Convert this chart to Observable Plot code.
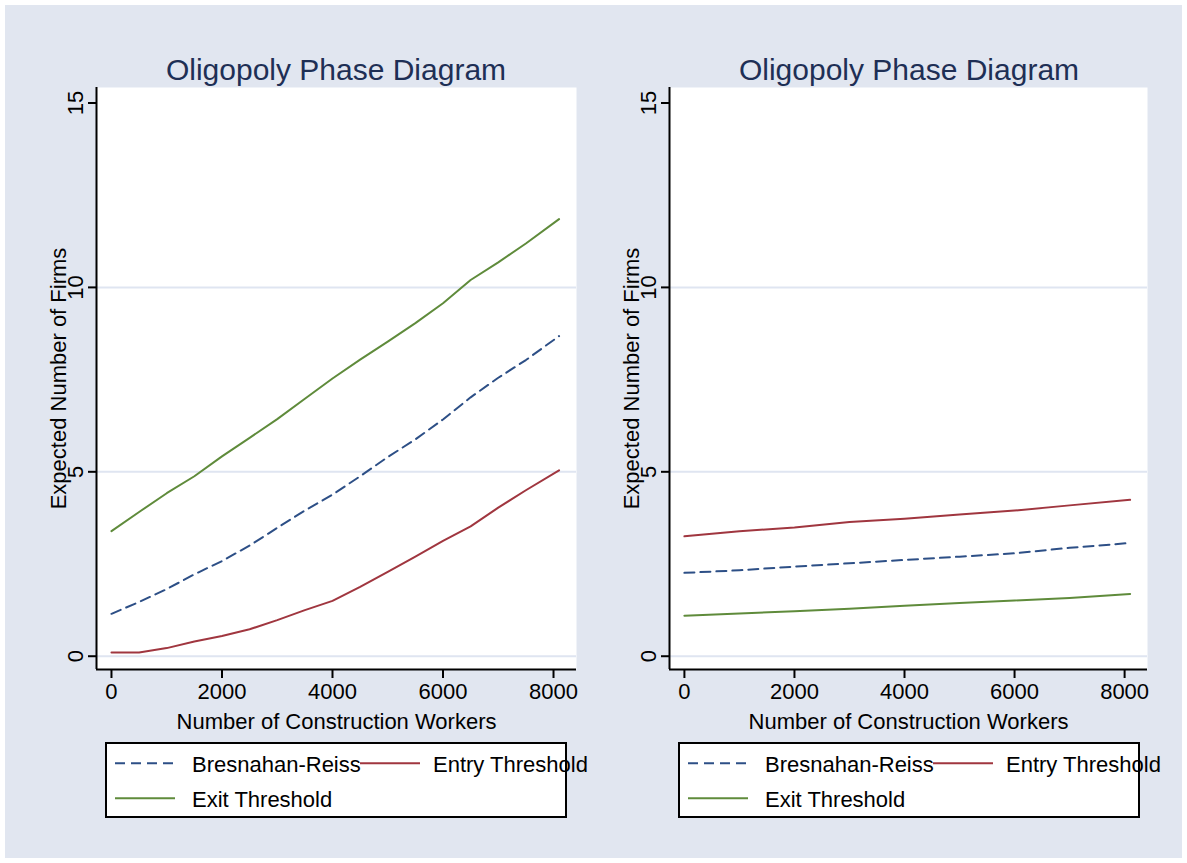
<!DOCTYPE html>
<html>
<head>
<meta charset="utf-8">
<script src="https://cdn.jsdelivr.net/npm/d3@7"></script>
<script src="https://cdn.jsdelivr.net/npm/@observablehq/plot@0.6"></script>
<style>
  html, body { margin: 0; padding: 0; background: #ffffff; }
  #root { position: relative; width: 1187px; height: 863px; overflow: hidden; font-family: "Liberation Sans", Arial, sans-serif; }
  #bg { position: absolute; left: 5px; top: 5px; width: 1177px; height: 853px; background: #e1e6f0; }
  .title { position: absolute; width: 480px; text-align: center; font-size: 30px; line-height: 30px; color: #1e2f55; white-space: nowrap; }
  .chart { position: absolute; }
  .legend { position: absolute; overflow: visible; }
</style>
</head>
<body>
<div id="root"><div id="bg"></div></div>
<script>
// ---------------- data ----------------
const seriesNames = ["Bresnahan-Reiss", "Entry Threshold", "Exit Threshold"];
const panelTitle = "Oligopoly Phase Diagram";
const xLabel = "Number of Construction Workers";
const yLabel = "Expected Number of Firms";
const xTicks = [0, 2000, 4000, 6000, 8000];
const yTicks = [0, 5, 10, 15];
const gridTicks = [0, 5, 10];

// left panel
const xLeft      = [0, 500, 1000, 1500, 2000, 2500, 3000, 3500, 4000, 4500, 5000, 5500, 6000, 6500, 7000, 7500, 8100];
const leftBR     = [1.15, 1.47, 1.82, 2.22, 2.58, 3.00, 3.48, 3.95, 4.38, 4.88, 5.40, 5.88, 6.42, 7.02, 7.55, 8.03, 8.68];
const leftEntry  = [0.10, 0.10, 0.22, 0.40, 0.55, 0.73, 0.98, 1.25, 1.50, 1.88, 2.29, 2.70, 3.13, 3.52, 4.03, 4.50, 5.04];
const leftExit   = [3.39, 3.91, 4.42, 4.88, 5.42, 5.92, 6.43, 6.98, 7.53, 8.04, 8.53, 9.03, 9.57, 10.20, 10.68, 11.19, 11.85];

// right panel
const xRight     = [0, 1000, 2000, 3000, 4000, 5000, 6000, 7000, 8100];
const rightBR    = [2.26, 2.33, 2.43, 2.52, 2.61, 2.70, 2.79, 2.94, 3.07];
const rightEntry = [3.25, 3.39, 3.49, 3.64, 3.73, 3.84, 3.95, 4.09, 4.24];
const rightExit  = [1.10, 1.16, 1.22, 1.29, 1.37, 1.44, 1.51, 1.58, 1.69];

// ---------------- style ----------------
const colors = {"Bresnahan-Reiss": "#2d4f86", "Entry Threshold": "#a0363f", "Exit Threshold": "#5f8b3b"};
const dashes = {"Bresnahan-Reiss": "10,6", "Entry Threshold": null, "Exit Threshold": null};
const xDomain = [-271, 8416];
const yDomain = [-0.36, 15.42];
const FONT = "'Liberation Sans', Arial, sans-serif";

function rowsFor(xs, br, entry, exit) {
  const rows = [];
  const vals = [br, entry, exit];
  seriesNames.forEach((s, k) => xs.forEach((x, i) => rows.push({series: s, x, y: vals[k][i]})));
  return rows;
}

function panel(rows, marginRight) {
  const lineMarks = seriesNames.map(s => Plot.line(rows.filter(r => r.series === s), {
    x: "x", y: "y", stroke: colors[s], strokeWidth: 2, strokeDasharray: dashes[s] ?? undefined
  }));
  return Plot.plot({
    width: 590, height: 660,
    marginLeft: 96, marginRight, marginTop: 7, marginBottom: 71,
    style: {background: "transparent", fontFamily: FONT, color: "#000"},
    x: {domain: xDomain, axis: null},
    y: {domain: yDomain, axis: null},
    marks: [
      Plot.frame({fill: "white", stroke: "none"}),
      Plot.gridY(gridTicks, {stroke: "#dfe5f1", strokeOpacity: 1, strokeWidth: 2}),
      Plot.axisX({ticks: xTicks, tickSize: 9, tickPadding: 5, fontSize: 22, tickFormat: d3.format("d"), label: null, strokeWidth: 2}),
      Plot.axisY({ticks: yTicks, tickSize: 8, tickFormat: () => "", label: null, strokeWidth: 2}),
      Plot.text(yTicks, {y: d => d, text: d => String(d), frameAnchor: "left", dx: -14, rotate: -90, textAnchor: "middle", lineAnchor: "bottom", fontSize: 22, fill: "#000"}),
      Plot.text([yLabel], {text: d => d, frameAnchor: "left", dx: -46, rotate: -90, textAnchor: "middle", lineAnchor: "top", fontSize: 22, fill: "#000"}),
      Plot.text([xLabel], {text: d => d, frameAnchor: "bottom", dy: 59, textAnchor: "middle", lineAnchor: "bottom", fontSize: 22, fill: "#000"}),
      ...lineMarks,
      Plot.ruleX([xDomain[0]], {stroke: "#000", strokeWidth: 2}),
      Plot.ruleY([yDomain[0]], {stroke: "#000", strokeWidth: 2})
    ]
  });
}

function legendSvg() {
  const ns = "http://www.w3.org/2000/svg";
  const svg = document.createElementNS(ns, "svg");
  svg.setAttribute("width", 500); svg.setAttribute("height", 78);
  svg.style.overflow = "visible";
  const add = (tag, attrs, text) => {
    const el = document.createElementNS(ns, tag);
    for (const k in attrs) el.setAttribute(k, attrs[k]);
    if (text) el.textContent = text;
    svg.appendChild(el); return el;
  };
  add("rect", {x: 1, y: 1, width: 460, height: 74, fill: "white", stroke: "#000", "stroke-width": 2});
  const items = [
    {s: seriesNames[0], lx: 10, tx: 87, ly: 21.3, ty: 29.7},
    {s: seriesNames[1], lx: 255, tx: 328, ly: 21.3, ty: 29.7},
    {s: seriesNames[2], lx: 10, tx: 87, ly: 56.3, ty: 64.7}
  ];
  items.forEach(it => {
    const a = {x1: it.lx, x2: it.lx + 60, y1: it.ly, y2: it.ly, stroke: colors[it.s], "stroke-width": 2};
    if (dashes[it.s]) a["stroke-dasharray"] = dashes[it.s];
    add("line", a);
    add("text", {x: it.tx, y: it.ty, "font-size": 22, "font-family": FONT, fill: "#000"}, it.s);
  });
  return svg;
}

const root = document.getElementById("root");
const panels = [
  {offset: 0, marginRight: 14, rows: rowsFor(xLeft, leftBR, leftEntry, leftExit)},
  {offset: 573, marginRight: 16, rows: rowsFor(xRight, rightBR, rightEntry, rightExit)}
];
panels.forEach(p => {
  const t = document.createElement("div");
  t.className = "title"; t.textContent = panelTitle;
  t.style.left = (96 + p.offset) + "px"; t.style.top = "55px";
  root.appendChild(t);
  const c = document.createElement("div");
  c.className = "chart"; c.style.left = p.offset + "px"; c.style.top = "80px";
  c.appendChild(panel(p.rows, p.marginRight));
  root.appendChild(c);
  const l = document.createElement("div");
  l.className = "legend"; l.style.left = (105 + p.offset) + "px"; l.style.top = "742px";
  l.appendChild(legendSvg());
  root.appendChild(l);
});
</script>
</body>
</html>
